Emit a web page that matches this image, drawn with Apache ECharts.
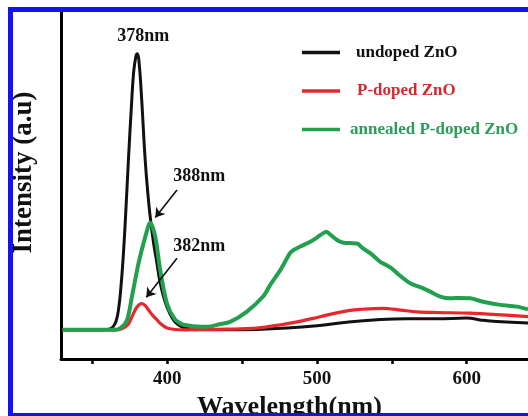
<!DOCTYPE html>
<html>
<head>
<meta charset="utf-8">
<script src="https://cdn.jsdelivr.net/npm/echarts@6.0.0/dist/echarts.min.js"></script>
<style>
  html, body { margin: 0; padding: 0; background: #fff; }
  #chart { width: 528px; height: 416px; }
</style>
</head>
<body>
<div id="chart"></div>
<script>
// ---- data (wavelength nm, intensity a.u.) ----
const seriesNames = ['undoped ZnO', 'P-doped ZnO', 'annealed P-doped ZnO'];
const undoped = [[330,84],[355,84],[361,86],[364,94],[366,112],[367.5,145],[369,205],[370.5,290],[372,400],[374,570],[376,725],[377.5,825],[379,872],[380,880],[381,862],[382.6,770],[385.3,570],[387.5,455],[389.1,391],[391,330],[393.1,276],[395,225],[397.5,180],[400,148],[403,120],[406,103],[410,92],[415,87],[420,84],[440,84],[460,85],[480,89],[500,96],[520,106],[540,113],[560,116],[580,116],[600,118],[610,112],[620,108],[641,104]];
const pDoped = [[330,84],[365,84],[370,88],[374,100],[376.4,122],[379.8,150],[383,160],[385.5,153],[387.5,141],[390,127],[393.1,113],[396,100],[399.8,89],[405,85],[412,84],[420,85],[440,86],[460,89],[475,98],[490,110],[497.5,117],[510,130],[522,140],[529,143],[544,146],[556,141],[567,136],[580,134],[602,132],[620,128],[641,122]];
const annealed = [[330,84],[365,84],[369,90],[373.1,112],[376.4,180],[380.8,276],[385.3,352],[388.6,393],[392,352],[395.3,256],[399.8,160],[405,115],[410,100],[415,96],[420,94],[426.5,93],[435,100],[442,107],[453,136],[464,180],[469,215],[475.5,256],[482,305],[484.4,314],[488.8,324],[495.5,338],[500,350],[504,362],[506.5,367],[509,358],[513.4,343],[517.8,335],[522,334],[526.7,333],[531,318],[535.6,305],[542.3,280],[549,264],[555.6,240],[562.3,218],[569,207],[575.7,194],[582.4,180],[589,175],[596,176],[602.4,175],[611,165],[622.4,156],[633.6,151],[641,143]];
const xTickValues = [350, 400, 450, 500, 550, 600];
const xLabelValues = [400, 500, 600];
const peakTexts = ['378nm', '382nm', '388nm'];
const peakTextAt = [[384.0, 931], [421.4, 326], [421.4, 525]];
const arrowFrom = [null, [406.5, 290], [406.5, 487]];
const arrowTo = [null, [386, 178], [392, 408]];

const colors = ['#111111', '#e8262c', '#22a04e'];
const textColors = ['#111111', '#d8282e', '#2a9e58'];
const widths = [3, 3.2, 4];
const smoothness = [0.45, 0.3, 0.3];
const serif = 'Liberation Serif';

const chart = echarts.init(document.getElementById('chart'), null, { renderer: 'canvas' });

const dataSets = [undoped, pDoped, annealed];
const series = dataSets.map((d, i) => {
  const s = {
    name: seriesNames[i],
    type: 'line',
    data: d,
    symbol: 'none',
    smooth: smoothness[i],
    lineStyle: { color: colors[i], width: widths[i] },
    itemStyle: { color: colors[i] },
    z: [2, 3, 4][i],
    markPoint: {
      symbol: 'circle', symbolSize: 0, silent: true,
      label: { show: true, position: 'inside', formatter: peakTexts[i], color: '#111', fontFamily: serif, fontWeight: 'bold', fontSize: 18 },
      data: [{ coord: peakTextAt[i] }]
    }
  };
  if (arrowFrom[i]) {
    s.markLine = {
      silent: true, symbol: ['none', 'arrow'], symbolSize: 9,
      label: { show: false },
      lineStyle: { color: '#111', width: 1.6, type: 'solid' },
      data: [[{ coord: arrowFrom[i] }, { coord: arrowTo[i] }]]
    };
  }
  return s;
});

const legendPad = [11, 12, 5];

chart.setOption({
  animation: false,
  backgroundColor: '#fff',
  grid: { left: 61, right: 0, top: 12, bottom: 57, containLabel: false, outerBoundsMode: 'none' },
  xAxis: {
    type: 'value', min: 329, max: 641,
    axisLine: { show: true, onZero: false, lineStyle: { color: '#000', width: 3 } },
    axisTick: { show: true, customValues: xTickValues, length: 5, inside: false, lineStyle: { color: '#000', width: 2.5 } },
    axisLabel: { customValues: xLabelValues, margin: 11, color: '#111', fontFamily: serif, fontWeight: 'bold', fontSize: 19 },
    splitLine: { show: false },
    name: 'Wavelength(nm)', nameLocation: 'middle', nameGap: 35,
    nameTextStyle: { color: '#111', fontFamily: serif, fontWeight: 'bold', fontSize: 26, padding: [0, 10, 0, 0] }
  },
  yAxis: {
    type: 'value', min: 0, max: 1000,
    axisLine: { show: true, lineStyle: { color: '#000', width: 3 } },
    axisTick: { show: false },
    axisLabel: { show: false },
    splitLine: { show: false },
    name: 'Intensity (a.u)', nameLocation: 'middle', nameGap: 23,
    nameTextStyle: { color: '#111', fontFamily: serif, fontWeight: 'bold', fontSize: 27, padding: [0, 0, 0, 26] }
  },
  legend: {
    orient: 'vertical', left: 302, top: 44, padding: 0,
    itemWidth: 38, itemHeight: 3.5, itemGap: 21.5,
    icon: 'rect',
    selectedMode: false,
    textStyle: { fontFamily: serif, fontWeight: 'bold', fontSize: 17 },
    data: seriesNames.map((n, i) => ({ name: n, itemStyle: { color: colors[i] }, textStyle: { color: textColors[i], padding: [0, 0, 0, legendPad[i]] } }))
  },
  series: series,
  graphic: [
    { type: 'rect', z: 100, shape: { x: 8, y: 7, width: 520, height: 5 }, style: { fill: '#1212f2' } },
    { type: 'rect', z: 100, shape: { x: 8, y: 7, width: 5, height: 409 }, style: { fill: '#1212f2' } },
    { type: 'rect', z: 100, shape: { x: 8, y: 413, width: 520, height: 3 }, style: { fill: '#1212f2' } }
  ]
});
</script>
</body>
</html>
